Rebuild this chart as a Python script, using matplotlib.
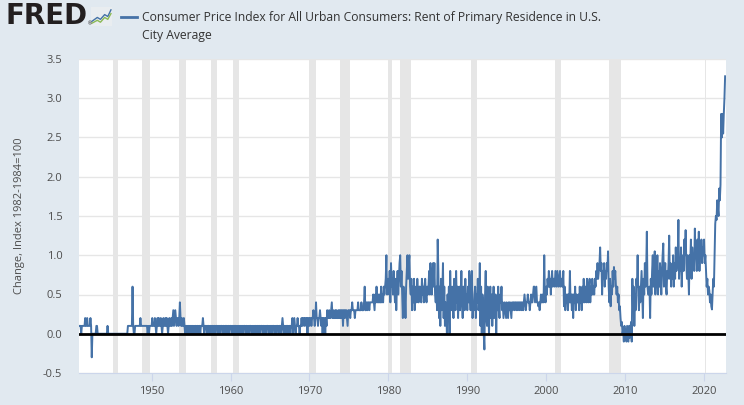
import matplotlib.pyplot as plt
import numpy as np
from matplotlib.lines import Line2D

plt.rcParams['font.family'] = ['Open Sans', 'DejaVu Sans']

# monthly change in the rent index
# first value is Nov 1940, last is Sep 2022
chg_1940s = [
    0.1, 0.1,
    0.1, 0.0, 0.1, 0.1, 0.1, 0.1, 0.1, 0.2, 0.1, 0.1, 0.2, 0.1,
    0.1, 0.1, 0.1, 0.2, 0.1, -0.3, 0.0, 0.0, 0.0, 0.0, 0.0, 0.0,
    0.1, 0.1, 0.0, 0.0, 0.0, 0.0, 0.0, 0.0, 0.0, 0.0, 0.0, 0.0,
    0.0, 0.0, 0.0, 0.0, 0.0, 0.1, 0.0, 0.0, 0.0, 0.0, 0.0, 0.0,
    0.0, 0.0, 0.0, 0.0, 0.0, 0.0, 0.0, 0.0, 0.0, 0.0, 0.0, 0.0,
    0.0, 0.0, 0.0, 0.0, 0.0, 0.0, 0.0, 0.0, 0.0, 0.0, 0.0, 0.0,
    0.1, 0.1, 0.1, 0.1, 0.1, 0.1, 0.1, 0.6, 0.1, 0.0, 0.0, 0.1,
    0.1, 0.1, 0.1, 0.1, 0.1, 0.1, 0.1, 0.2, 0.1, 0.1, 0.1, 0.1,
    0.1, 0.1, 0.1, 0.1, 0.1, 0.1, 0.0, 0.1, 0.0, 0.1, 0.1, 0.1,
]
chg_1950s = [
    0.1, 0.2, 0.1, 0.1, 0.1, 0.2, 0.1, 0.0, 0.1, 0.2, 0.1, 0.2,
    0.1, 0.1, 0.2, 0.1, 0.0, 0.1, 0.2, 0.1, 0.1, 0.2, 0.1, 0.2,
    0.1, 0.0, 0.1, 0.2, 0.1, 0.1, 0.2, 0.1, 0.2, 0.3, 0.1, 0.2,
    0.3, 0.2, 0.1, 0.2, 0.2, 0.1, 0.2, 0.4, 0.2, 0.1, 0.2, 0.1,
    0.1, 0.2, 0.1, 0.0, 0.1, 0.1, 0.0, 0.1, 0.1, 0.0, 0.1, 0.1,
    0.0, 0.1, 0.1, 0.0, 0.1, 0.0, 0.1, 0.1, 0.0, 0.1, 0.1, 0.0,
    0.1, 0.1, 0.0, 0.1, 0.1, 0.1, 0.2, 0.1, 0.0, 0.1, 0.1, 0.1,
    0.0, 0.1, 0.1, 0.1, 0.0, 0.1, 0.1, 0.0, 0.1, 0.1, 0.0, 0.1,
    0.1, 0.0, 0.1, 0.1, 0.1, 0.0, 0.1, 0.1, 0.0, 0.1, 0.1, 0.1,
    0.0, 0.1, 0.1, 0.0, 0.1, 0.1, 0.1, 0.0, 0.1, 0.1, 0.0, 0.1,
]
chg_1960s = [
    0.1, 0.1, 0.0, 0.1, 0.1, 0.0, 0.1, 0.1, 0.1, 0.0, 0.1, 0.0,
    0.1, 0.0, 0.1, 0.1, 0.0, 0.1, 0.1, 0.0, 0.1, 0.1, 0.1, 0.0,
    0.1, 0.1, 0.0, 0.1, 0.0, 0.1, 0.1, 0.1, 0.0, 0.1, 0.0, 0.1,
    0.0, 0.1, 0.1, 0.0, 0.1, 0.1, 0.0, 0.1, 0.1, 0.0, 0.1, 0.1,
    0.1, 0.0, 0.1, 0.1, 0.0, 0.1, 0.0, 0.1, 0.1, 0.1, 0.0, 0.1,
    0.0, 0.1, 0.1, 0.0, 0.1, 0.1, 0.1, 0.0, 0.1, 0.0, 0.1, 0.1,
    0.1, 0.0, 0.1, 0.1, 0.1, 0.0, 0.1, 0.2, 0.1, 0.0, 0.1, 0.1,
    0.0, 0.1, 0.1, 0.1, 0.0, 0.1, 0.1, 0.0, 0.1, 0.1, 0.2, 0.0,
    0.1, 0.2, 0.1, 0.0, 0.1, 0.1, 0.2, 0.1, 0.1, 0.0, 0.1, 0.1,
    0.2, 0.1, 0.2, 0.2, 0.1, 0.2, 0.2, 0.1, 0.2, 0.0, 0.2, 0.2,
]
chg_1970s = [
    0.1, 0.2, 0.2, 0.1, 0.2, 0.2, 0.3, 0.2, 0.1, 0.2, 0.4, 0.2,
    0.2, 0.1, 0.2, 0.2, 0.3, 0.2, 0.1, 0.2, 0.0, 0.2, 0.1, 0.2,
    0.0, 0.2, 0.1, 0.3, 0.2, 0.2, 0.3, 0.2, 0.2, 0.3, 0.4, 0.2,
    0.3, 0.2, 0.2, 0.3, 0.2, 0.3, 0.2, 0.2, 0.3, 0.2, 0.3, 0.2,
    0.3, 0.2, 0.3, 0.1, 0.3, 0.3, 0.2, 0.3, 0.3, 0.2, 0.1, 0.3,
    0.3, 0.3, 0.2, 0.3, 0.3, 0.4, 0.3, 0.3, 0.3, 0.2, 0.3, 0.3,
    0.3, 0.3, 0.4, 0.3, 0.3, 0.3, 0.3, 0.4, 0.3, 0.3, 0.3, 0.4,
    0.6, 0.3, 0.3, 0.4, 0.3, 0.4, 0.4, 0.3, 0.4, 0.4, 0.4, 0.4,
    0.4, 0.5, 0.4, 0.3, 0.5, 0.4, 0.6, 0.4, 0.5, 0.4, 0.5, 0.4,
    0.4, 0.6, 0.4, 0.5, 0.4, 0.6, 0.5, 0.6, 0.7, 1.0, 0.5, 0.6,
]
chg_1980s = [
    0.7, 0.5, 0.8, 0.4, 0.9, 0.6, 0.7, 0.5, 0.8, 0.6, 0.4, 0.7,
    0.3, 0.6, 0.8, 0.5, 0.7, 0.9, 1.0, 0.6, 0.8, 0.5, 0.2, 0.6,
    0.3, 0.5, 0.2, 0.6, 0.8, 1.0, 0.7, 0.9, 1.0, 0.6, 0.5, 0.7,
    0.3, 0.6, 0.4, 0.7, 0.3, 0.5, 0.6, 0.4, 0.7, 0.5, 0.4, 0.6,
    0.6, 0.5, 0.4, 0.7, 0.5, 0.6, 0.4, 0.6, 0.7, 0.5, 0.4, 0.6,
    0.5, 0.6, 0.8, 0.5, 0.9, 0.6, 0.5, 0.7, 0.9, 0.6, 0.9, 0.5,
    0.4, 0.6, 0.3, 1.2, 0.8, 0.2, 0.6, 0.1, 0.7, 0.3, 0.5, 0.9,
    0.2, 0.6, 0.1, 0.4, 0.3, 0.0, 0.5, 0.2, 0.6, 0.0, 0.8, 0.4,
    0.3, 0.6, 0.4, 0.2, 0.7, 0.5, 0.3, 0.8, 0.4, 0.6, 0.2, 0.5,
    0.6, 0.3, 0.5, 0.8, 0.4, 0.2, 0.6, 0.5, 0.3, 0.7, 0.4, 0.5,
]
chg_1990s = [
    0.3, 0.6, 0.4, 0.8, 0.5, 0.3, 0.7, 0.8, 0.2, 0.4, 0.3, 0.5,
    0.6, 0.2, 0.5, 0.4, 0.7, 0.3, 0.4, 0.9, 0.1, 0.6, 0.0, 0.5,
    0.4, 0.0, -0.2, 0.5, 0.8, 0.2, 0.1, 0.6, 0.3, 0.0, 0.4, 0.6,
    0.2, 0.5, 0.1, 0.4, 0.6, 0.2, 0.3, 0.5, 0.0, 0.4, 0.3, 0.6,
    0.3, 0.2, 0.5, 0.4, 0.6, 0.3, 0.4, 0.2, 0.3, 0.4, 0.3, 0.2,
    0.4, 0.3, 0.2, 0.4, 0.3, 0.4, 0.3, 0.2, 0.4, 0.3, 0.4, 0.4,
    0.3, 0.4, 0.4, 0.3, 0.4, 0.3, 0.4, 0.4, 0.3, 0.4, 0.4, 0.3,
    0.4, 0.3, 0.4, 0.5, 0.4, 0.3, 0.4, 0.4, 0.5, 0.4, 0.4, 0.3,
    0.4, 0.5, 0.4, 0.4, 0.5, 0.6, 0.6, 0.4, 0.5, 0.6, 0.4, 0.4,
    0.35, 0.4, 0.3, 0.4, 0.5, 0.4, 0.4, 0.5, 0.4, 1.0, 0.5, 0.4,
]
chg_2000s = [
    0.6, 0.5, 0.7, 0.6, 0.8, 0.6, 0.7, 0.5, 0.7, 0.8, 0.6, 0.7,
    0.7, 0.6, 0.8, 0.7, 0.6, 0.8, 0.7, 0.6, 0.7, 0.8, 0.6, 0.7,
    0.7, 0.6, 0.8, 0.35, 0.6, 0.3, 0.5, 0.4, 0.5, 0.3, 0.5, 0.4,
    0.8, 0.4, 0.5, 0.3, 0.5, 0.2, 0.5, 0.4, 0.6, 0.3, 0.5, 0.4,
    0.4, 0.5, 0.3, 0.6, 0.4, 0.5, 0.3, 0.6, 0.4, 0.7, 0.4, 0.5,
    0.6, 0.4, 0.7, 0.5, 0.4, 0.6, 0.7, 0.4, 0.6, 0.5, 0.7, 0.5,
    0.6, 0.5, 0.7, 0.6, 0.8, 0.7, 0.9, 0.7, 0.8, 0.9, 1.1, 0.8,
    0.9, 0.5, 0.8, 0.7, 0.9, 0.6, 0.8, 0.7, 0.9, 0.8, 1.05, 0.6,
    0.4, 0.7, 0.35, 0.6, 0.5, 0.8, 0.6, 0.85, 0.7, 0.8, 0.6, 0.5,
    0.6, 0.4, 0.5, 0.3, 0.35, 0.2, 0.1, 0.15, 0.0, 0.05, -0.1, 0.1,
]
chg_2010s = [
    -0.05, 0.05, -0.1, 0.1, 0.0, -0.1, 0.1, -0.05, 0.05, 0.15, -0.1, 0.7,
    0.3, 0.6, 0.1, 0.5, 0.3, 0.7, 0.6, 1.0, 0.5, 0.3, 0.6, 0.4,
    0.6, 0.8, 0.5, 0.2, 0.7, 0.5, 0.9, 0.6, 0.8, 1.3, 0.6, 0.5,
    0.5, 0.6, 0.2, 0.7, 0.5, 0.8, 1.0, 0.6, 0.7, 1.05, 0.5, 0.7,
    0.6, 1.0, 0.5, 0.8, 0.6, 0.9, 0.7, 0.5, 0.8, 1.0, 1.15, 0.6,
    0.7, 0.9, 0.6, 0.5, 0.8, 0.7, 0.9, 1.25, 0.7, 0.9, 0.6, 0.8,
    0.7, 1.0, 0.6, 0.9, 0.7, 1.1, 0.8, 0.9, 1.0, 1.45, 0.7, 0.9,
    0.8, 1.1, 0.6, 0.9, 1.0, 0.8, 1.2, 1.0, 1.32, 0.9, 0.7, 1.0,
    0.8, 0.5, 1.0, 0.9, 1.2, 0.7, 1.1, 0.9, 1.0, 0.8, 1.34, 1.0,
    1.0, 0.8, 1.2, 0.9, 1.3, 0.8, 1.1, 1.0, 1.2, 0.9, 1.1, 1.0,
]
chg_2020s = [
    1.2, 0.9, 1.0, 0.8, 0.6, 0.7, 0.5, 0.6, 0.55, 0.4, 0.5, 0.35,
    0.31, 0.5, 0.7, 0.6, 1.0, 1.4, 1.5, 1.45, 1.7, 1.6, 1.5, 1.85,
    1.7, 1.9, 2.8, 2.5, 2.8, 2.55, 2.8, 3.0, 3.28,
]

# NBER recessions (shaded)
rec_start = [1945.08, 1948.83, 1953.5, 1957.58, 1960.25, 1969.92, 1973.83,
             1980.0, 1981.5, 1990.5, 2001.17, 2007.92, 2020.08]
rec_end = [1945.75, 1949.75, 1954.33, 1958.25, 1961.08, 1970.83, 1975.17,
           1980.5, 1982.83, 1991.17, 2001.83, 2009.42, 2020.25]

years = [1950, 1960, 1970, 1980, 1990, 2000, 2010, 2020]
yticks = [-0.5, 0.0, 0.5, 1.0, 1.5, 2.0, 2.5, 3.0, 3.5]

chg = np.array(chg_1940s + chg_1950s + chg_1960s + chg_1970s + chg_1980s
               + chg_1990s + chg_2000s + chg_2010s + chg_2020s)
dates = 1940 + 10 / 12 + np.arange(len(chg)) / 12

W, H = 744, 405
fig = plt.figure(figsize=(W / 100, H / 100), dpi=100, facecolor='#e1e9f0')
ax = fig.add_axes([79 / W, 1 - 373 / H, (726 - 79) / W, (373 - 59) / H])
ax.set_facecolor('white')

for s, e in zip(rec_start, rec_end):
    ax.axvspan(s, e, color='#e6e6e6', lw=0, zorder=0)

ax.plot(dates, chg, color='#4572a7', lw=1.4, zorder=2)
ax.axhline(0, color='black', lw=2, zorder=3)

ax.set_xlim(1940.8, 2022.78)
ax.set_ylim(-0.5, 3.5)
ax.set_yticks(yticks)
ax.set_yticklabels(['%.1f' % v for v in yticks])
ax.set_xticks(years)
ax.set_xticklabels([str(y) for y in years])
ax.yaxis.grid(True, color='#e6e6e6', lw=1)
ax.set_axisbelow(True)

for side in ['top', 'right', 'left']:
    ax.spines[side].set_visible(False)
ax.spines['bottom'].set_color('#ccd6eb')
ax.tick_params(axis='y', length=0, pad=12, labelsize=8, labelcolor='#4d4d4d')
ax.tick_params(axis='x', length=6, color='#ccd6eb', pad=3, labelsize=8,
               labelcolor='#4d4d4d')

fig.text(20 / W, 1 - 216 / H, 'Change, Index 1982-1984=100', rotation=90,
         ha='center', va='center', fontsize=8, color='#4d4d4d')

# header: logo, legend dash and series title
fig.text(6 / W, 1 - 16 / H, 'FRED', family='DejaVu Sans', fontweight='bold',
         fontsize=20, color='#231f20', va='center', ha='left')
fig.text(87.5 / W, 1 - 24 / H, '\u00ae', fontsize=3.5, color='#231f20',
         va='center', ha='left')
icon = fig.add_axes([91 / W, 1 - 26 / H, 21 / W, 19 / H])
icon.set_facecolor('#e9edf0')
icon.set_xticks([])
icon.set_yticks([])
for sp in icon.spines.values():
    sp.set_visible(False)
icon.plot([0.05, 0.3, 0.45, 0.65, 0.8, 0.95], [0.25, 0.45, 0.35, 0.6, 0.5, 0.85],
          color='#4572a7', lw=1)
icon.plot([0.05, 0.3, 0.45, 0.65, 0.8, 0.95], [0.15, 0.3, 0.2, 0.45, 0.35, 0.65],
          color='#8bb955', lw=1)
icon.set_xlim(0, 1)
icon.set_ylim(0, 1)

fig.add_artist(Line2D([121 / W, 137 / W], [1 - 17 / H, 1 - 17 / H],
                      color='#4572a7', lw=2))
fig.text(142 / W, 1 - 17 / H,
         'Consumer Price Index for All Urban Consumers: Rent of Primary Residence in U.S.',
         fontsize=8.75, color='#333333', va='center', ha='left')
fig.text(142 / W, 1 - 35 / H, 'City Average', fontsize=8.75, color='#333333',
         va='center', ha='left')

fig.savefig('out.png', dpi=100, facecolor=fig.get_facecolor())
